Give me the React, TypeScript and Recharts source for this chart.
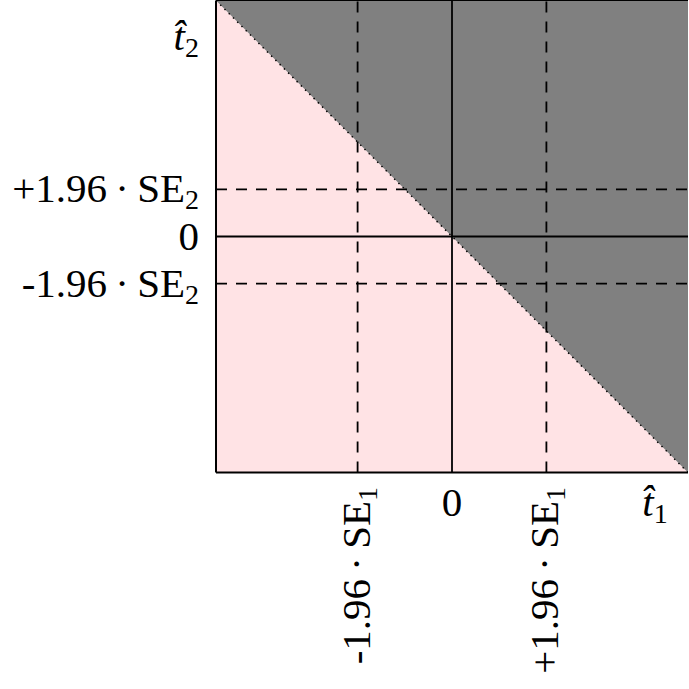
import React from 'react';
import {
  ComposedChart,
  Area,
  Line,
  XAxis,
  YAxis,
  ReferenceLine,
} from 'recharts';

// ---- data ----
const domainMin = -5;
const domainMax = 5;
const diagX = [-5, 5];
const diagY = [5, -5];
const critX = [-2, 2]; // ±1.96·SE1
const critY = [-1, 1]; // ±1.96·SE2

const xTicks = [-2, 0, 2, 4.3];
const xTickMain = ['-1.96\u2009·\u2009SE', '0', '+1.96\u2009·\u2009SE', 't\u0302'];
const xTickSub = ['1', '', '1', '1'];

const yTicks = [-1, 0, 1, 4.22];
const yTickMain = ['-1.96\u2009·\u2009SE', '0', '+1.96\u2009·\u2009SE', 't\u0302'];
const yTickSub = ['2', '', '2', '2'];

const data = diagX.map((x, i) => ({
  x,
  diag: diagY[i],
  lower: [domainMin, diagY[i]],
  upper: [diagY[i], domainMax],
}));

const FONT = '"Liberation Serif", "Times New Roman", serif';
const FS = 41;
const SUB_FS = 28;

function LabelContent({ main, sub }: { main: string; sub: string }) {
  const isHat = main.startsWith('t');
  return (
    <>
      <tspan fontStyle={isHat ? 'italic' : 'normal'}>{main}</tspan>
      {sub ? (
        <tspan dy={7} fontSize={SUB_FS}>
          {sub}
        </tspan>
      ) : null}
    </>
  );
}

function YTick(props: any) {
  const { x, y, payload } = props;
  const i = yTicks.indexOf(payload.value);
  if (i < 0) return null;
  return (
    <text
      x={x}
      y={y}
      dy={13}
      textAnchor="end"
      fontFamily={FONT}
      fontSize={FS}
      fill="#000"
    >
      <LabelContent main={yTickMain[i]} sub={yTickSub[i]} />
    </text>
  );
}

function XTick(props: any) {
  const { x, y, payload } = props;
  const i = xTicks.indexOf(payload.value);
  if (i < 0) return null;
  const main = xTickMain[i];
  const sub = xTickSub[i];
  if (main.length > 3) {
    return (
      <text
        transform={`translate(${x + 12}, ${y + 14.5}) rotate(-90)`}
        textAnchor="end"
        fontFamily={FONT}
        fontSize={FS}
        fill="#000"
      >
        <LabelContent main={main} sub={sub} />
      </text>
    );
  }
  return (
    <text
      x={x}
      y={y + 43}
      textAnchor="middle"
      fontFamily={FONT}
      fontSize={FS}
      fill="#000"
    >
      <LabelContent main={main} sub={sub} />
    </text>
  );
}

export default function App() {
  return (
    <div style={{ position: 'absolute', left: 0, top: 0, width: 689, height: 689 }}>
      <ComposedChart
        width={689}
        height={689}
        data={data}
        margin={{ top: 0.5, right: 1, left: 0, bottom: 0 }}
      >
        <XAxis
          dataKey="x"
          type="number"
          domain={[domainMin, domainMax]}
          ticks={xTicks}
          tick={<XTick />}
          tickLine={false}
          tickSize={0}
          tickMargin={0}
          height={216.5}
          axisLine={{ stroke: '#000', strokeWidth: 2 }}
          interval={0}
          allowDataOverflow
        />
        <YAxis
          type="number"
          domain={[domainMin, domainMax]}
          ticks={yTicks}
          tick={<YTick />}
          tickLine={false}
          tickSize={0}
          tickMargin={17}
          width={216}
          axisLine={{ stroke: '#000', strokeWidth: 2 }}
          interval={0}
          allowDataOverflow
        />
        <Area
          dataKey="lower"
          type="linear"
          fill="#FFE3E5"
          fillOpacity={1}
          stroke="none"
          isAnimationActive={false}
          dot={false}
          activeDot={false}
        />
        <Area
          dataKey="upper"
          type="linear"
          fill="#808080"
          fillOpacity={1}
          stroke="none"
          isAnimationActive={false}
          dot={false}
          activeDot={false}
        />
        <Line
          dataKey="diag"
          type="linear"
          stroke="#000"
          strokeWidth={1.5}
          strokeDasharray="1.5 4.5"
          dot={false}
          activeDot={false}
          isAnimationActive={false}
        />
        {critX.map((v) => (
          <ReferenceLine
            key={`cx${v}`}
            x={v}
            stroke="#000"
            strokeWidth={1.8}
            strokeDasharray="11 9"
          />
        ))}
        {critY.map((v) => (
          <ReferenceLine
            key={`cy${v}`}
            y={v}
            stroke="#000"
            strokeWidth={1.8}
            strokeDasharray="11 9"
          />
        ))}
        <ReferenceLine x={0} stroke="#000" strokeWidth={1.8} />
        <ReferenceLine y={0} stroke="#000" strokeWidth={1.8} />
        <ReferenceLine y={domainMax} stroke="#000" strokeWidth={1} />
      </ComposedChart>
    </div>
  );
}
